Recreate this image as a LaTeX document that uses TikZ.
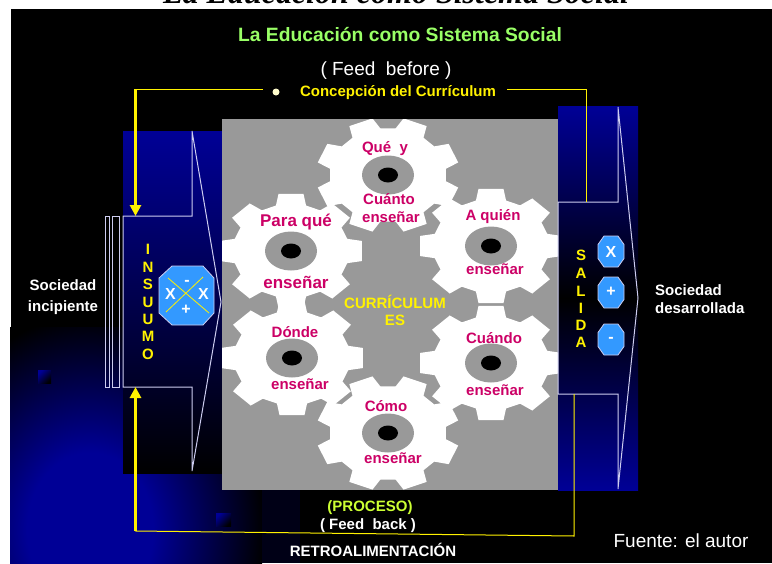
\documentclass[tikz,border=0pt]{standalone}
\usepackage{fontspec}
\setmainfont{Liberation Sans}
\newfontfamily\seriffont{Liberation Serif}
\usetikzlibrary{arrows.meta,calc}

\definecolor{grisrueda}{RGB}{153,153,153}
\definecolor{azulpanel}{RGB}{0,0,150}
\definecolor{azulboton}{RGB}{51,153,255}
\definecolor{lila}{RGB}{205,205,240}
\definecolor{verdetitulo}{RGB}{153,255,102}
\definecolor{verdeproceso}{RGB}{204,255,51}
\definecolor{magentatexto}{RGB}{204,0,102}
\pgfdeclareradialshading{fondoazul}{\pgfpointorigin}{color(0bp)=(azulpanel); color(9bp)=(azulpanel); color(25bp)=(black); color(50bp)=(black)}

\tikzset{
  rotulo/.style={font=\bfseries\fontsize{15}{17}\selectfont,text=white,inner sep=0pt},
  rueda/.style={font=\bfseries\fontsize{15}{17}\selectfont,text=magentatexto,inner sep=0pt},
  ruedagrande/.style={rueda,font=\bfseries\fontsize{17}{19}\selectfont},
  letra/.style={font=\bfseries\fontsize{15}{17}\selectfont,text=yellow,inner sep=0pt},
  signo/.style={font=\bfseries\fontsize{16}{18}\selectfont,text=white,inner sep=0pt},
  contorno/.style={draw=lila,line width=1pt,line join=miter},
  boton/.style={fill=azulboton,draw=lila,line width=0.8pt},
  guia/.style={draw=yellow,line width=1pt},
  flecha/.style={draw=yellow,line width=3.4pt,-{Triangle[length=11pt,width=11pt]}},
  mancha/.style={top color=azulpanel,bottom color=black,shading angle=45}
}

% rueda dentada: centro, giro
\newcommand{\cogwheel}[3]{
  \begin{scope}[shift={(#1,#2)}]
    \fill[white,xscale=1.24,rotate=#3] (-15:47)
      \foreach \a in {0,45,...,315} { -- (\a-15:47) -- (\a-10:58) -- (\a+10:58) -- (\a+15:47) } -- cycle;
    \fill[grisrueda] (0,0) ellipse (26 and 19.5);
    \fill[black] (0,0) ellipse (10 and 7.5);
  \end{scope}
}
% boton octogonal: centro
\newcommand{\boton}[2]{
  \draw[boton,shift={(#1,#2)}] (-7,-15.5) -- (7,-15.5) -- (13,-7) -- (13,7) -- (7,15.5) -- (-7,15.5) -- (-13,7) -- (-13,-7) -- cycle;
}

\begin{document}
\begin{tikzpicture}[x=1pt,y=-1pt]
\useasboundingbox (0,0) rectangle (772,563);
\clip (0,0) rectangle (772,563);

\node[font=\seriffont\bfseries\itshape\fontsize{32}{34}\selectfont,anchor=base,inner sep=0pt] (titulo) at (396,3) {La Educación como Sistema Social};
\fill[black] (11,9) rectangle (772,563);

% fondo inferior izquierdo
\begin{scope}
  \clip (10,327) rectangle (262,563);
  \fill[black] (10,327) rectangle (262,563);
  \shade[shading=fondoazul] (-85,315) rectangle (265,745);
\end{scope}
\fill[black!85!azulpanel] (262,490) rectangle (300,563);
\shade[mancha] (38,370) rectangle (51,383);
\shade[mancha] (216,513) rectangle (231,526);

% paneles
\shade[top color=azulpanel,bottom color=black] (123,131) rectangle (222,473);
\shade[top color=azulpanel,bottom color=azulpanel,middle color=black] (558,106) rectangle (638,490);
\fill[grisrueda] (222,119) rectangle (558,490);

% ruedas
\begin{scope}
  \clip (222,119) rectangle (558,490);
  \cogwheel{388}{175}{22.5}
  \cogwheel{388}{433}{22.5}
  \cogwheel{291}{251}{0}
  \cogwheel{292}{358}{0}
  \cogwheel{491}{246}{0}
  \cogwheel{491}{363}{0}
\end{scope}

% flecha de insumo
\draw[contorno] (105,216) rectangle (109,387);
\draw[contorno] (112,216) rectangle (119.5,387);
\draw[contorno] (123,387) -- (123,216) -- (192,216) -- (192,131) -- (221,302) -- (192,471) -- (192,387) -- cycle;
% flecha de salida
\draw[contorno] (558,394) -- (558,202) -- (618,202) -- (618,107) -- (638,298) -- (618,489) -- (618,394) -- cycle;

% botones
\boton{611}{251.5}
\boton{611}{292.5}
\boton{611}{339.5}
\draw[boton] (172,266) -- (203,266) -- (214,278) -- (214,313) -- (203,325) -- (172,325) -- (159,313) -- (159,278) -- cycle;
\coordinate (cruzA) at (168,278);
\coordinate (cruzB) at (209,313);
\coordinate (cruzC) at (203,277);
\coordinate (cruzD) at (166,312);
\draw[yellow,line width=0.8pt] (cruzA) -- (cruzB);
\draw[yellow,line width=0.8pt] (cruzC) -- (cruzD);
\node[signo] (menos) at (187,283) {-};
\node[signo] (cruzizq) at (170.5,294) {X};
\node[signo] (cruzder) at (203.5,294) {X};
\node[signo] (mas) at (186,310) {+};
\node[signo] (botonX) at (611,252) {X};
\node[signo] (botonmas) at (611,292) {+};
\node[signo] (botonmenos) at (611,340) {-};

% textos
\node[font=\bfseries\fontsize{19.3}{21}\selectfont,text=verdetitulo,inner sep=0pt] (sistema) at (400,34.5) {La Educación como Sistema Social};
\node[font=\fontsize{19}{21}\selectfont,text=white,inner sep=0pt] (before) at (386,70.5) {( Feed\ \ before )};
\node[font=\bfseries\fontsize{15}{17}\selectfont,text=yellow,inner sep=0pt] (concepcion) at (398,93) {Concepción del Currículum};
\fill[yellow!20] (276,92) circle (3.5);

\node[rotulo] (incipA) at (63,285) {Sociedad};
\node[rotulo] (incipB) at (63,308) {incipiente};
\node[rotulo,anchor=west] (desarA) at (655,290) {Sociedad};
\node[rotulo,anchor=west] (desarB) at (655,308) {desarrollada};

\foreach \l/\y [count=\i] in {I/249,N/267,S/284,U/302,U/319,M/336,O/354}
  \node[letra] (insumo\i) at (148,\y) {\l};
\foreach \l/\y [count=\i] in {S/255,A/273,L/291,I/308,D/325,A/342}
  \node[letra] (salida\i) at (581,\y) {\l};

\node[rueda] (que) at (385,149) {Qué\ \ y};
\node[rueda] (cuanto) at (389,199) {Cuánto};
\node[rueda] (ensA) at (391,217) {enseñar};
\node[ruedagrande] (paraque) at (296,222) {Para qué};
\node[ruedagrande] (ensB) at (296,282) {enseñar};
\node[rueda] (aquien) at (493,217) {A quién};
\node[rueda] (ensC) at (495,269) {enseñar};
\node[rueda] (donde) at (295,332) {Dónde};
\node[rueda] (ensD) at (300,384) {enseñar};
\node[rueda] (cuando) at (494,338) {Cuándo};
\node[rueda] (ensE) at (495,390) {enseñar};
\node[rueda] (como) at (386,406) {Cómo};
\node[rueda] (ensF) at (393,458) {enseñar};
\node[font=\bfseries\fontsize{15}{17}\selectfont,text=yellow,inner sep=0pt] (curriculum) at (395,302) {CURRÍCULUM};
\node[font=\bfseries\fontsize{15}{17}\selectfont,text=yellow,inner sep=0pt] (es) at (395,320) {ES};

\node[font=\bfseries\fontsize{15}{17}\selectfont,text=verdeproceso,inner sep=0pt] (proceso) at (370,508) {(PROCESO)};
\node[rotulo] (feedback) at (368,526) {( Feed\ \ back )};
\node[rotulo] (retro) at (373,550) {RETROALIMENTACIÓN};
\node[font=\fontsize{19}{21}\selectfont,text=white,inner sep=0pt] (fuente) at (681,541) {Fuente: el autor};

% guias amarillas
\coordinate (supizq) at (135.5,89);
\coordinate (supini) at (263,89);
\coordinate (supfin) at (507,89);
\coordinate (supder) at (586,89);
\coordinate (supbaja) at (586,202);
\coordinate (insarriba) at (135.5,216);
\coordinate (insabajo) at (135.5,387);
\coordinate (infizq) at (135.5,531);
\coordinate (infder) at (574,536);
\coordinate (infsube) at (574,394);
\draw[guia] (supizq) -- (supini);
\draw[guia] (supfin) -- (supder) -- (supbaja);
\draw[guia] (infsube) -- (infder) -- (infizq);
\draw[flecha] (supizq) -- (insarriba);
\draw[flecha] (infizq) -- (insabajo);
\end{tikzpicture}
\end{document}
